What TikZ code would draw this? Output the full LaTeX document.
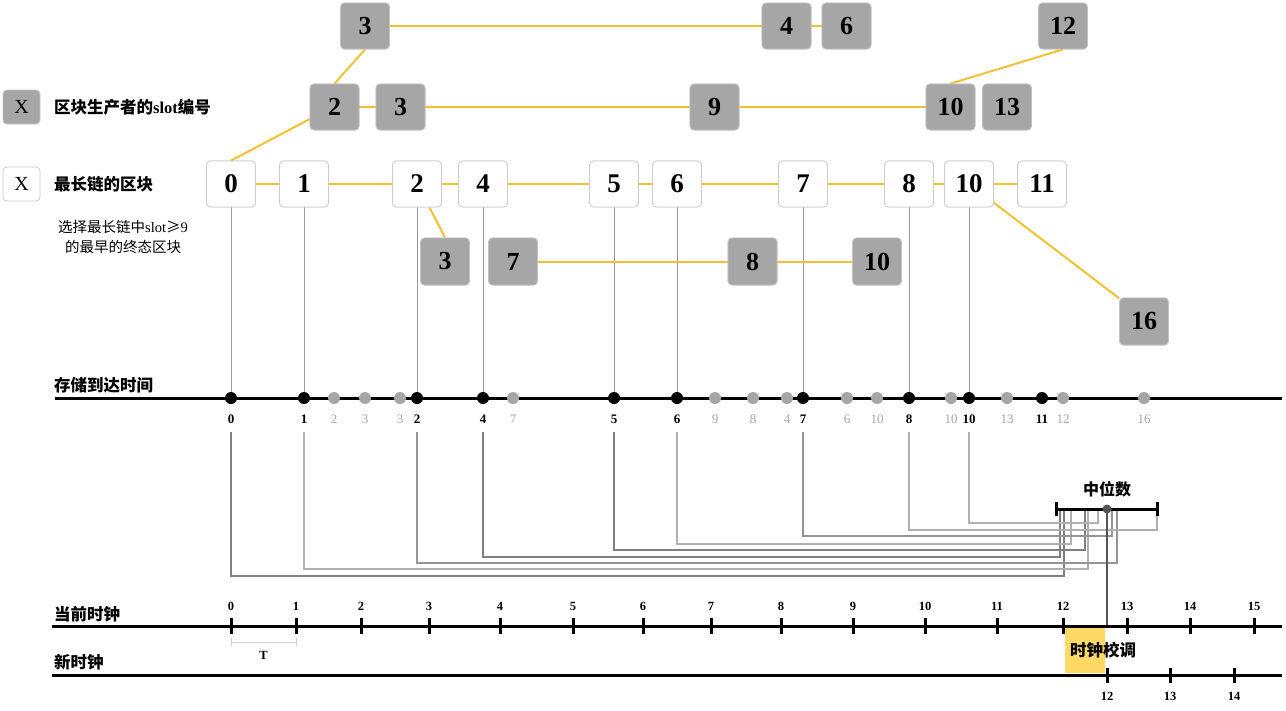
\documentclass[tikz,border=0pt]{standalone}
\usepackage{fontspec}
\setmainfont{Liberation Serif}
\newfontfamily\cjk{Noto Sans CJK SC}
\definecolor{yel}{HTML}{F0C232}
\definecolor{gfill}{HTML}{A6A6A6}
\definecolor{gdraw}{HTML}{C4C4C4}
\definecolor{wdraw}{HTML}{CCCCCC}
\definecolor{glab}{HTML}{A6A6A6}
\definecolor{vcol}{HTML}{999999}
\definecolor{rA}{HTML}{7F7F7F}
\definecolor{rB}{HTML}{B0B0B0}
\definecolor{rC}{HTML}{959595}
\definecolor{mcol}{HTML}{555555}
\definecolor{clockfill}{HTML}{FFD966}
\definecolor{tcol}{HTML}{CFCFCF}
\tikzset{
  wbox/.style={draw=wdraw, fill=white, rounded corners=4pt, minimum width=49pt, minimum height=46pt, inner sep=0pt, line width=0.8pt, font=\fontsize{27}{30}\selectfont\bfseries},
  gbox/.style={draw=gdraw, fill=gfill, rounded corners=4pt, minimum width=49pt, minimum height=46pt, inner sep=0pt, line width=0.8pt, font=\fontsize{26}{30}\selectfont\bfseries},
  yl/.style={draw=yel, line width=2pt},
  vline/.style={draw=vcol, line width=1pt},
  route/.style={draw=#1, line width=1.3pt},
  bdot/.style={circle, fill=black, minimum size=12pt, inner sep=0pt},
  gdot/.style={circle, fill=gfill, minimum size=12pt, inner sep=0pt},
  blab/.style={font=\fontsize{13}{14}\selectfont\bfseries, text=black, inner sep=0pt},
  glabel/.style={font=\fontsize{13}{14}\selectfont, text=glab, inner sep=0pt},
  axisline/.style={draw=black, line width=3pt},
  tickmark/.style={draw=black, line width=3pt},
  cjklab/.style={font=\cjk\bfseries\fontsize{16.5}{18}\selectfont, anchor=west, inner sep=0pt},
  clab/.style={font=\fontsize{12.5}{14}\selectfont\bfseries, inner sep=0pt}
}
\begin{document}
\begin{tikzpicture}[x=1pt, y=-1pt]
\useasboundingbox (0,0) rectangle (1286,710);

% legend
\node[gbox, minimum width=37pt, minimum height=34pt, font=\fontsize{20}{22}\selectfont] (lgx) at (21.5,107) {X};
\node[wbox, minimum width=37pt, minimum height=34pt, font=\fontsize{20}{22}\selectfont] (lwx) at (21.5,184) {X};
\node[cjklab] (lg) at (54,107) {区块生产者的{\rmfamily\bfseries slot}编号};
\node[cjklab] (lw) at (54,184) {最长链的区块};
\node[font=\cjk\fontsize{14.5}{20}\selectfont, align=center, inner sep=0pt] (note) at (123,237) {选择最长链中{\rmfamily slot}≥{\rmfamily 9}\\的最早的终态区块};

% main chain
\node[wbox] (m0) at (231,184) {0};
\node[wbox] (m1) at (304,184) {1};
\node[wbox] (m2) at (417,184) {2};
\node[wbox] (m4) at (483,184) {4};
\node[wbox] (m5) at (614,184) {5};
\node[wbox] (m6) at (677,184) {6};
\node[wbox] (m7) at (803,184) {7};
\node[wbox] (m8) at (909,184) {8};
\node[wbox] (m10) at (969,184) {10};
\node[wbox] (m11) at (1042,184) {11};

% row 2 (slot numbers)
\node[gbox] (pa2) at (334.5,107) {2};
\node[gbox] (pa3) at (400.5,107) {3};
\node[gbox] (pa9) at (714.5,107) {9};
\node[gbox] (pa10) at (950.5,107) {10};
\node[gbox] (pa13) at (1007,107) {13};

% row 1
\node[gbox] (qa3) at (365,26) {3};
\node[gbox] (qa4) at (786.5,26) {4};
\node[gbox] (qa6) at (846.5,26) {6};
\node[gbox] (qa12) at (1063,26) {12};

% row 3
\node[gbox, minimum height=47pt] (sa3) at (445,261.5) {3};
\node[gbox, minimum height=47pt] (sa7) at (513,261.5) {7};
\node[gbox, minimum height=47pt] (sa8) at (752.5,261.5) {8};
\node[gbox, minimum height=47pt] (sa10) at (877,261.5) {10};
\node[gbox, minimum height=47pt] (sa16) at (1144,321.5) {16};

% storage timeline dots (positions)
\coordinate (b0) at (231,398);
\coordinate (b1) at (304,398);
\coordinate (b2) at (417,398);
\coordinate (b4) at (483,398);
\coordinate (b5) at (614,398);
\coordinate (b6) at (677,398);
\coordinate (b7) at (803,398);
\coordinate (b8) at (909,398);
\coordinate (b10) at (969,398);
% start points of the lines below the labels
\coordinate (s0) at (231,432);
\coordinate (s1) at (304,432);
\coordinate (s2) at (417,432);
\coordinate (s4) at (483,432);
\coordinate (s5) at (614,432);
\coordinate (s6) at (677,432);
\coordinate (s7) at (803,432);
\coordinate (s8) at (909,432);
\coordinate (s10) at (969,432);

% routing to median bracket
\coordinate (h0) at (1064,576); \coordinate (e0) at (1064,509);
\coordinate (h1) at (1088,569); \coordinate (e1) at (1088,509);
\coordinate (h2) at (1117,563); \coordinate (e2) at (1117,509);
\coordinate (h4) at (1060,557); \coordinate (e4) at (1060,509);
\coordinate (h5) at (1085,550); \coordinate (e5) at (1085,509);
\coordinate (h6) at (1071,544); \coordinate (e6) at (1071,509);
\coordinate (h7) at (1112,536); \coordinate (e7) at (1112,509);
\coordinate (h8) at (1157,530); \coordinate (e8) at (1157,509);
\coordinate (h10) at (1098,523); \coordinate (e10) at (1098,509);
\draw[route=rA] (s0) |- (h0) -- (e0);
\draw[route=rB] (s1) |- (h1) -- (e1);
\draw[route=rC] (s2) |- (h2) -- (e2);
\draw[route=rA] (s4) |- (h4) -- (e4);
\draw[route=rA] (s5) |- (h5) -- (e5);
\draw[route=rB] (s6) |- (h6) -- (e6);
\draw[route=rC] (s7) |- (h7) -- (e7);
\draw[route=rB] (s8) |- (h8) -- (e8);
\draw[route=rB] (s10) |- (h10) -- (e10);

% vertical lines from chain to storage timeline
\foreach \m/\b in {m0/b0,m1/b1,m2/b2,m4/b4,m5/b5,m6/b6,m7/b7,m8/b8,m10/b10}
  \draw[vline] (\m.south) -- (\b);

% yellow links
\draw[yl] (m0.east) -- (m1.west);
\draw[yl] (m1.east) -- (m2.west);
\draw[yl] (m2.east) -- (m4.west);
\draw[yl] (m4.east) -- (m5.west);
\draw[yl] (m5.east) -- (m6.west);
\draw[yl] (m6.east) -- (m7.west);
\draw[yl] (m7.east) -- (m8.west);
\draw[yl] (m8.east) -- (m10.west);
\draw[yl] (m10.east) -- (m11.west);
\draw[yl] (m0.north) -- (pa2.206);
\draw[yl] (pa2.east) -- (pa3.west);
\draw[yl] (pa3.east) -- (pa9.west);
\draw[yl] (pa9.east) -- (pa10.west);
\draw[yl] (pa2.north) -- (qa3.south);
\draw[yl] (pa10.north) -- (qa12.south);
\draw[yl] (qa3.east) -- (qa4.west);
\draw[yl] (qa4.east) -- (qa6.west);
\draw[yl] (m2.298) -- (sa3.north);
\draw[yl] (sa7.east) -- (sa8.west);
\draw[yl] (sa8.east) -- (sa10.west);
\draw[yl] (m10.-37) -- (sa16.137);

% redraw boxes on top of links
\foreach \x/\y/\t in {231/184/0,304/184/1,417/184/2,483/184/4,614/184/5,677/184/6,803/184/7,909/184/8,969/184/10,1042/184/11}
  \node[wbox] at (\x,\y) {\t};
\foreach \x/\y/\t in {334.5/107/2,400.5/107/3,714.5/107/9,950.5/107/10,1007/107/13,365/26/3,786.5/26/4,846.5/26/6,1063/26/12}
  \node[gbox] at (\x,\y) {\t};
\foreach \x/\y/\t in {445/261.5/3,513/261.5/7,752.5/261.5/8,877/261.5/10,1144/321.5/16}
  \node[gbox, minimum height=47pt] at (\x,\y) {\t};

% storage timeline
\node[cjklab] (st) at (54,385) {存储到达时间};
\coordinate (sL) at (55,398); \coordinate (sR) at (1282,398);
\draw[axisline] (sL) -- (sR);
\foreach \x/\t in {231/0,304/1,417/2,483/4,614/5,677/6,803/7,909/8,969/10,1042/11}{
  \node[bdot] at (\x,398) {};
  \node[blab] at (\x,419.5) {\t};
}
\foreach \x/\t in {334/2,365/3,400/3,513/7,715/9,753/8,787/4,847/6,877/10,951/10,1007/13,1063/12,1144/16}{
  \node[gdot] at (\x,398) {};
  \node[glabel] at (\x,419.5) {\t};
}

% median bracket
\node[font=\cjk\bfseries\fontsize{16}{18}\selectfont, inner sep=0pt] (mlab) at (1107,489) {中位数};
\coordinate (mL) at (1056,509); \coordinate (mR) at (1157,509);
\draw[axisline] (mL) -- (mR);
\draw[tickmark] (1056,502) -- (1056,516);
\draw[tickmark] (1157,502) -- (1157,516);
\coordinate (mbot) at (1107,626);
\draw[draw=mcol, line width=1.3pt] (1107,509) -- (mbot);
\node[circle, fill=mcol, minimum size=9pt, inner sep=0pt] (md) at (1107,509) {};

% current clock
\node[cjklab] (cc) at (54,614) {当前时钟};
\fill[clockfill] (1065,627) rectangle (1105,673);
\draw[axisline] (52,626) -- (1282,626);
\foreach \x/\t in {231/0,296/1,361/2,429/3,500/4,573/5,643/6,711/7,781/8,853/9,925/10,997/11,1063/12,1127/13,1190/14,1254/15}{
  \draw[tickmark] (\x,618) -- (\x,634);
  \node[clab] at (\x,606) {\t};
}
% T interval
\draw[draw=tcol, line width=1pt] (231,638) -- (231,646);
\draw[draw=tcol, line width=1pt] (296,638) -- (296,646);
\draw[draw=tcol, line width=1pt] (231,642) -- (296,642);
\node[clab] (tl) at (263.5,655) {T};

% new clock
\node[cjklab] (nc) at (54,662) {新时钟};
\draw[axisline] (52,675) -- (1282,675);
\foreach \x/\t in {1107/12,1170/13,1234/14}{
  \draw[tickmark] (\x,668) -- (\x,683);
  \node[clab] at (\x,696) {\t};
}
\node[font=\cjk\bfseries\fontsize{16.5}{18}\selectfont, inner sep=0pt] (adj) at (1103,650) {时钟校调};
\end{tikzpicture}
\end{document}
